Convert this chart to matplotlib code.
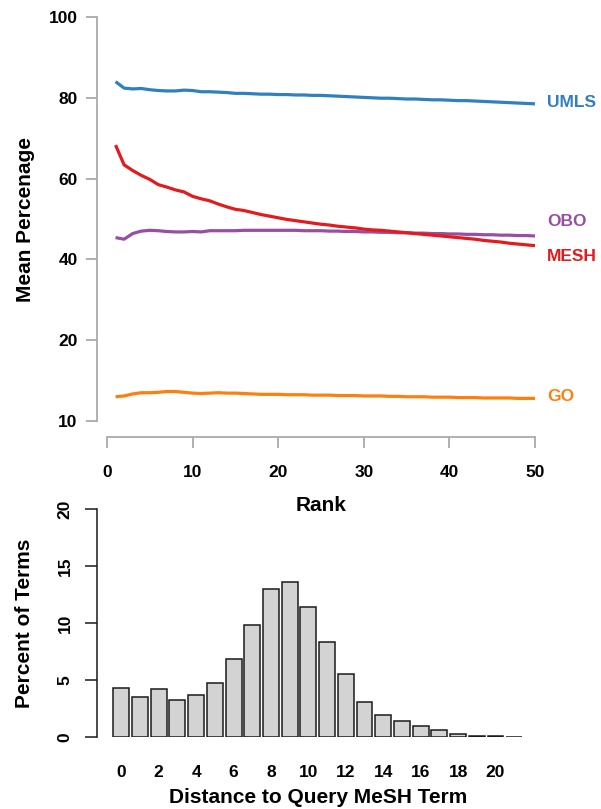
import matplotlib
matplotlib.use("Agg")
import matplotlib.pyplot as plt
import numpy as np

plt.rcParams['font.family'] = ['Liberation Sans', 'DejaVu Sans']
plt.rcParams['font.weight'] = 'bold'

# ---------------- data ----------------
ranks = list(range(1, 51))
umls = [84.0, 82.4, 82.2, 82.3, 82.0, 81.8, 81.7, 81.7, 81.9, 81.8,
        81.5, 81.5, 81.4, 81.3, 81.1, 81.1, 81.0, 80.9, 80.9, 80.8,
        80.8, 80.7, 80.7, 80.6, 80.6, 80.5, 80.4, 80.3, 80.2, 80.1,
        80.0, 79.9, 79.9, 79.8, 79.7, 79.7, 79.6, 79.5, 79.5, 79.4,
        79.3, 79.3, 79.2, 79.1, 79.0, 78.9, 78.8, 78.7, 78.6, 78.5]
mesh = [68.3, 63.4, 62.0, 60.8, 59.8, 58.5, 57.9, 57.2, 56.7, 55.6,
        55.0, 54.5, 53.7, 53.0, 52.4, 52.1, 51.6, 51.1, 50.7, 50.3,
        49.9, 49.6, 49.3, 49.0, 48.7, 48.5, 48.2, 48.0, 47.8, 47.5,
        47.3, 47.2, 47.0, 46.8, 46.6, 46.4, 46.2, 46.0, 45.8, 45.6,
        45.4, 45.2, 45.0, 44.7, 44.5, 44.3, 44.0, 43.8, 43.6, 43.4]
obo = [45.4, 45.0, 46.4, 47.0, 47.2, 47.1, 46.9, 46.8, 46.8, 46.9,
       46.8, 47.1, 47.1, 47.1, 47.1, 47.2, 47.2, 47.2, 47.2, 47.2,
       47.2, 47.2, 47.1, 47.1, 47.1, 47.0, 47.0, 46.9, 46.9, 46.8,
       46.8, 46.7, 46.7, 46.6, 46.6, 46.5, 46.5, 46.4, 46.4, 46.3,
       46.3, 46.2, 46.2, 46.1, 46.1, 46.0, 46.0, 45.9, 45.9, 45.8]
go = [6.0, 6.2, 6.7, 7.0, 7.0, 7.1, 7.3, 7.3, 7.1, 6.9,
      6.8, 6.9, 7.0, 6.9, 6.9, 6.8, 6.7, 6.6, 6.6, 6.6,
      6.5, 6.5, 6.5, 6.4, 6.4, 6.4, 6.3, 6.3, 6.3, 6.2,
      6.2, 6.2, 6.1, 6.1, 6.0, 6.0, 6.0, 5.9, 5.9, 5.9,
      5.8, 5.8, 5.8, 5.7, 5.7, 5.7, 5.7, 5.6, 5.6, 5.6]
series_names = ['UMLS', 'OBO', 'MESH', 'GO']
series_label_y = [78.8, 49.3, 40.7, 6.0]
top_yticks = [0, 20, 40, 60, 80, 100]
top_yticklabels = ['10', '20', '40', '60', '80', '100']
top_xticks = [0, 10, 20, 30, 40, 50]

distance = list(range(0, 22))
percent_terms = [4.33, 3.51, 4.21, 3.28, 3.69, 4.77, 6.88, 9.86, 12.96, 13.64,
                 11.36, 8.37, 5.53, 3.07, 1.96, 1.40, 0.94, 0.59, 0.29, 0.09,
                 0.06, 0.03]
bottom_yticks = [0, 5, 10, 15, 20]
bottom_xticklabels = ['0', '2', '4', '6', '8', '10', '12', '14', '16', '18', '20']

colors = {'UMLS': '#3080C0', 'OBO': '#984EA3', 'MESH': '#E41A1C', 'GO': '#FF7F0E'}
values = {'UMLS': umls, 'OBO': obo, 'MESH': mesh, 'GO': go}

W, H = 601, 809
fig = plt.figure(figsize=(W / 100, H / 100), dpi=100)

# ---------------- top chart ----------------
ax1 = fig.add_axes([107 / W, (H - 421) / H, 428 / W, 404 / H])
for name in series_names:
    ax1.plot(ranks, values[name], color=colors[name], lw=2.3, solid_capstyle='butt')
for name, ly in zip(series_names, series_label_y):
    ax1.text(51.4, ly, name, color=colors[name], fontsize=12.5, fontweight='bold',
             ha='left', va='center', clip_on=False)
ax1.set_xlim(0, 50)
ax1.set_ylim(0, 100)
gray = '#AAAAAA'
for s in ['top', 'right']:
    ax1.spines[s].set_visible(False)
ax1.spines['left'].set_position(('outward', 7.2))
ax1.spines['bottom'].set_position(('outward', 11.5))
ax1.spines['left'].set_bounds(0, 100)
ax1.spines['bottom'].set_bounds(0, 50)
for s in ['left', 'bottom']:
    ax1.spines[s].set_color(gray)
    ax1.spines[s].set_linewidth(1.3)
ax1.set_yticks(top_yticks)
ax1.set_yticklabels(top_yticklabels)
ax1.set_xticks(top_xticks)
ax1.tick_params(axis='both', colors=gray, length=8, width=1.3, labelcolor='black',
                labelsize=12.5)
ax1.tick_params(axis='y', pad=6)
ax1.tick_params(axis='x', pad=12)
for lab in ax1.get_xticklabels() + ax1.get_yticklabels():
    lab.set_fontweight('bold')
ax1.set_ylabel('Mean Percenage', fontsize=15, fontweight='bold', labelpad=10)
ax1.set_xlabel('Rank', fontsize=15, fontweight='bold', labelpad=12)

# ---------------- bottom chart ----------------
slot = 18.71
c0 = 121.3
left_px, right_px = 97, 540
xmin = (left_px - c0) / slot
xmax = (right_px - c0) / slot
ax2 = fig.add_axes([left_px / W, (H - 737) / H, (right_px - left_px) / W, (737 - 509) / H])
ax2.patch.set_visible(False)
ax2.bar(distance, percent_terms, width=0.85, color='#D3D3D3', edgecolor='#1a1a1a',
        linewidth=1.1)
ax2.set_xlim(xmin, xmax)
ax2.set_ylim(0, 20)
for s in ['top', 'right', 'bottom']:
    ax2.spines[s].set_visible(False)
ax2.spines['left'].set_bounds(0, 20)
ax2.spines['left'].set_linewidth(1.1)
ax2.spines['left'].set_color('#1a1a1a')
ax2.set_yticks(bottom_yticks)
ax2.set_yticklabels([str(v) for v in bottom_yticks], rotation=90, va='center', ha='right')
ax2.set_xticks(distance[::2])
ax2.set_xticklabels(bottom_xticklabels)
ax2.tick_params(axis='y', length=8.6, width=1.1, colors='#1a1a1a', labelcolor='black',
                labelsize=12.5, pad=9)
ax2.tick_params(axis='x', length=0, labelsize=12.5, pad=20)
for lab in ax2.get_xticklabels() + ax2.get_yticklabels():
    lab.set_fontweight('bold')
ax2.set_ylabel('Percent of Terms', fontsize=15, fontweight='bold', labelpad=17)
ax2.set_xlabel('Distance to Query MeSH Term', fontsize=15, fontweight='bold', labelpad=6)

fig.savefig('out.png', dpi=100)
